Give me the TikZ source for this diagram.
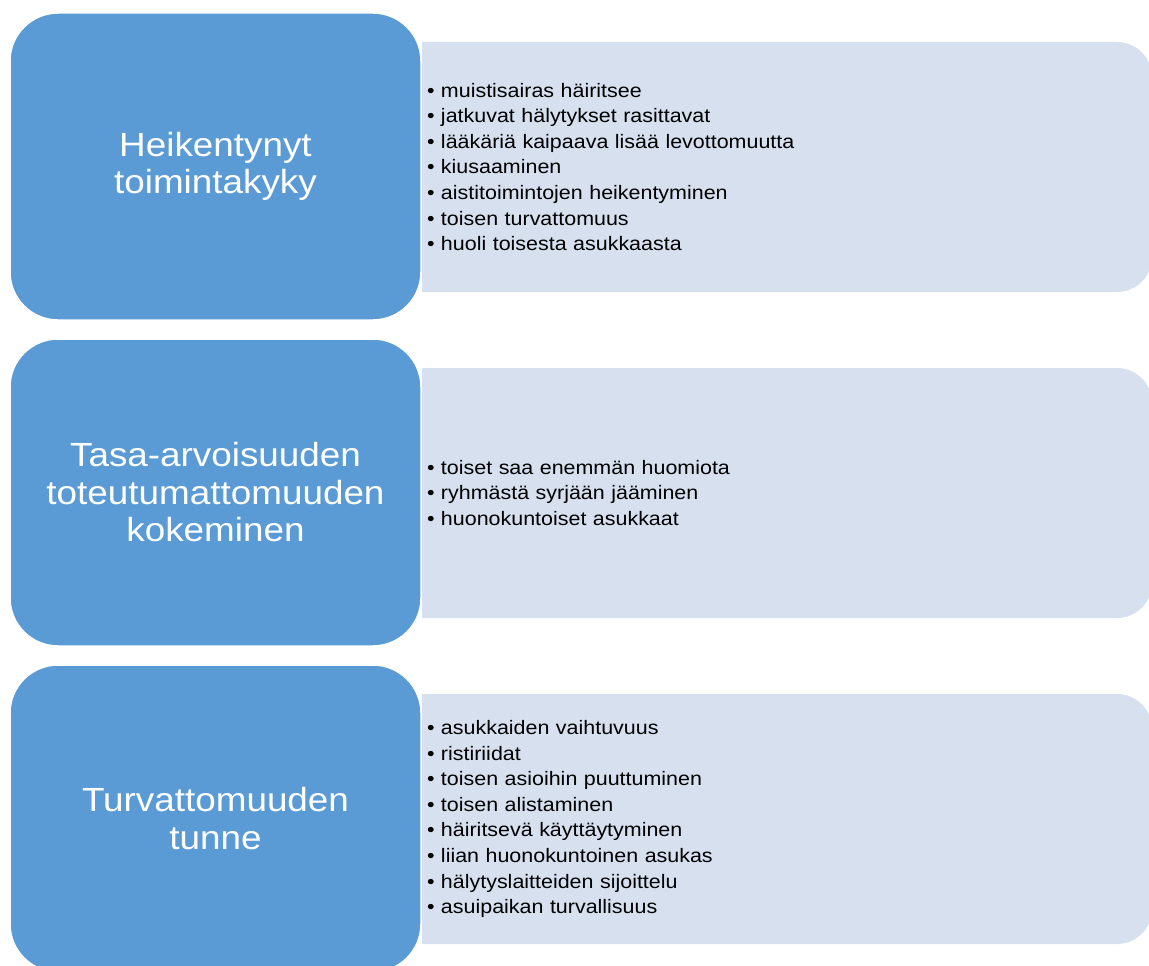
\documentclass[tikz,border=0pt]{standalone}
\usepackage{fontspec}
\setmainfont{Liberation Sans}[FakeStretch=1.1]
\definecolor{boxblue}{RGB}{91,155,213}
\definecolor{boxpale}{RGB}{214,224,239}

\begin{document}
\begin{tikzpicture}[x=1pt, y=-1pt,
    head/.style={fill=boxblue, draw=white, line width=1.5pt, rounded corners=48pt,
        minimum width=411pt, minimum height=307pt, text=white, align=center,
        font=\fontsize{33.5}{37.5}\selectfont},
    panel/.style={fill=boxpale, rounded corners=35pt, minimum width=772pt,
        minimum height=250pt, text width=678pt, inner xsep=47pt, align=left,
        font=\fontsize{19.5}{25.6}\selectfont}]

    \useasboundingbox (0,0) rectangle (1149,966);

    % pale panels, cut square on the left
    \begin{scope}
        \clip (422,0) rectangle (1149,966);
        \node[panel] (fall) at (766,167) {%
            • muistisairas häiritsee\\
            • jatkuvat hälytykset rasittavat\\
            • lääkäriä kaipaava lisää levottomuutta\\
            • kiusaaminen\\
            • aistitoimintojen heikentyminen\\
            • toisen turvattomuus\\
            • huoli toisesta asukkaasta};
        \node[panel] (equal) at (766,493) {%
            • toiset saa enemmän huomiota\\
            • ryhmästä syrjään jääminen\\
            • huonokuntoiset asukkaat};
        \node[panel] (safe) at (766,819) {%
            • asukkaiden vaihtuvuus\\
            • ristiriidat\\
            • toisen asioihin puuttuminen\\
            • toisen alistaminen\\
            • häiritsevä käyttäytyminen\\
            • liian huonokuntoinen asukas\\
            • hälytyslaitteiden sijoittelu\\
            • asuipaikan turvallisuus};
    \end{scope}

    % blue headings
    \node[head] (h1) at (215.5,166.5) {Heikentynyt\\toimintakyky};
    \node[head] (h2) at (215.5,492.5) {Tasa-arvoisuuden\\toteutumattomuuden\\kokeminen};
    \node[head] (h3) at (215.5,818.5) {Turvattomuuden\\tunne};

\end{tikzpicture}
\end{document}
